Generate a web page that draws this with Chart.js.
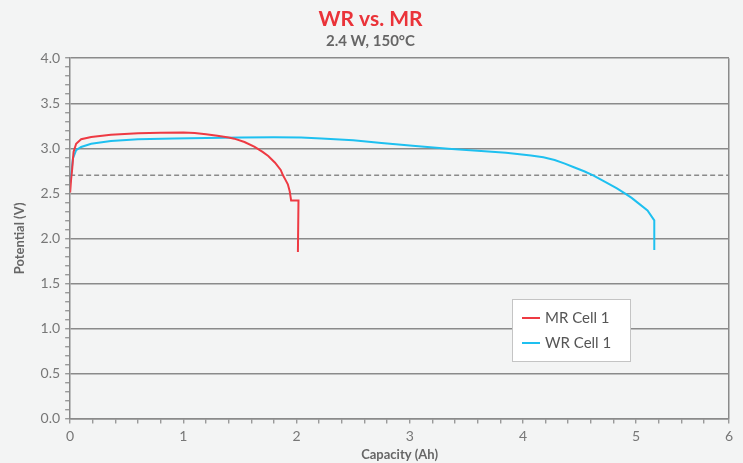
<!DOCTYPE html>
<html>
<head>
<meta charset="utf-8">
<script src="https://cdn.jsdelivr.net/npm/chart.js@4/dist/chart.umd.min.js"></script>
<style>
  body { margin: 0; background: #f3f4f4; }
  #wrap { width: 743px; height: 463px; position: relative; }
</style>
</head>
<body>
<div id="wrap"><canvas id="wrMrChart"></canvas></div>
<script>
// capacity (Ah) / potential (V)
const mrCapacity = [0, 0.008, 0.018, 0.03, 0.053, 0.097, 0.186, 0.36, 0.6, 0.8, 1.0, 1.1, 1.2, 1.3, 1.4, 1.45, 1.54, 1.63, 1.7, 1.75, 1.81, 1.86, 1.88, 1.9, 1.923, 1.94, 1.952, 2.017, 2.012];
const mrPotential = [2.51, 2.65, 2.77, 2.96, 3.05, 3.1, 3.126, 3.15, 3.167, 3.173, 3.175, 3.17, 3.157, 3.14, 3.12, 3.107, 3.07, 3.015, 2.96, 2.915, 2.84, 2.76, 2.7, 2.655, 2.6, 2.52, 2.42, 2.42, 1.85];

const wrCapacity = [0, 0.01, 0.024, 0.053, 0.097, 0.186, 0.36, 0.6, 0.92, 1.2, 1.51, 1.8, 2.04, 2.22, 2.5, 2.75, 3.05, 3.34, 3.63, 3.85, 4.07, 4.18, 4.28, 4.37, 4.45, 4.54, 4.62, 4.75, 4.83, 4.9, 4.96, 5.01, 5.1, 5.16, 5.16];
const wrPotential = [2.62, 2.72, 2.885, 2.98, 3.015, 3.05, 3.08, 3.1, 3.11, 3.115, 3.12, 3.122, 3.12, 3.11, 3.09, 3.06, 3.025, 2.995, 2.97, 2.95, 2.92, 2.9, 2.87, 2.83, 2.79, 2.745, 2.7, 2.61, 2.555, 2.5, 2.45, 2.4, 2.31, 2.2, 1.87];

const cutoffPotential = 2.7;
const xAxisEnd = 5.82;
const xTickLabels = ['0', '1', '2', '3', '4', '5', '6'];
const seriesLabels = ['MR Cell 1', 'WR Cell 1'];

const ctx = document.getElementById('wrMrChart');
const fontFamily = 'Lato, "Open Sans", sans-serif';

const toPoints = (xs, ys) => xs.map((x, i) => ({ x: x, y: ys[i] }));
const isHalf = v => Math.abs(v * 2 - Math.round(v * 2)) < 1e-6;

const boxLegend = {
  id: 'boxLegend',
  afterDraw(chart) {
    const c = chart.ctx;
    c.save();
    c.fillStyle = '#ffffff';
    c.strokeStyle = '#c4c4c4';
    c.lineWidth = 1;
    c.fillRect(512, 299, 118, 62);
    c.strokeRect(512.5, 299.5, 118, 62);
    chart.data.datasets.slice(0, 2).forEach((ds, i) => {
      const y = 318 + i * 25;
      c.strokeStyle = ds.borderColor;
      c.lineWidth = 2;
      c.beginPath();
      c.moveTo(522, y);
      c.lineTo(540, y);
      c.stroke();
      c.fillStyle = '#555';
      c.font = '15px ' + fontFamily;
      c.textBaseline = 'middle';
      c.fillText(ds.label, 545, y);
    });
    c.restore();
  }
};

new Chart(ctx, {
  type: 'line',
  data: {
    datasets: [
      {
        label: seriesLabels[0],
        data: toPoints(mrCapacity, mrPotential),
        borderColor: '#ee3a43',
        borderWidth: 2,
        pointRadius: 0,
        tension: 0
      },
      {
        label: seriesLabels[1],
        data: toPoints(wrCapacity, wrPotential),
        borderColor: '#1ec0f0',
        borderWidth: 2,
        pointRadius: 0,
        tension: 0
      },
      {
        label: 'cutoff',
        data: [{ x: 0, y: cutoffPotential }, { x: xAxisEnd, y: cutoffPotential }],
        borderColor: '#8a8a8a',
        borderWidth: 1.5,
        borderDash: [5, 3],
        pointRadius: 0
      }
    ]
  },
  options: {
    responsive: true,
    maintainAspectRatio: false,
    animation: false,
    layout: { padding: { left: 12, right: 14, top: 2, bottom: 0 } },
    plugins: {
      legend: { display: false },
      tooltip: { enabled: false },
      title: {
        display: true,
        text: 'WR vs. MR',
        color: '#ea3339',
        font: { family: fontFamily, size: 21, weight: 'bold' },
        padding: { top: 5, bottom: 0 }
      },
      subtitle: {
        display: true,
        text: '2.4 W, 150°C',
        color: '#666',
        font: { family: fontFamily, size: 15, weight: 'bold' },
        padding: { top: 0, bottom: 8 }
      }
    },
    scales: {
      x: {
        type: 'linear',
        min: 0,
        max: xAxisEnd,
        afterBuildTicks: scale => {
          const ticks = [];
          for (let i = 0; i < 29; i++) ticks.push({ value: Math.round(i * 2) / 10 });
          ticks.push({ value: xAxisEnd });
          scale.ticks = ticks;
        },
        ticks: {
          autoSkip: false,
          maxRotation: 0,
          color: '#777',
          font: { family: fontFamily, size: 14 },
          padding: 4,
          callback: (value) => {
            if (value === xAxisEnd) return xTickLabels[xTickLabels.length - 1];
            if (Math.abs(value - Math.round(value)) < 1e-6) return xTickLabels[Math.round(value)];
            return '';
          }
        },
        grid: {
          color: c => (c.tick && c.tick.value === xAxisEnd) ? '#8a8a8a' : 'transparent',
          lineWidth: 1.5,
          tickColor: '#8a8a8a',
          tickLength: 5,
          tickWidth: 1.2
        },
        border: { display: true, color: '#8a8a8a', width: 1.5 },
        title: {
          display: true,
          text: 'Capacity (Ah)',
          color: '#666',
          font: { family: fontFamily, size: 13, weight: 'bold' },
          padding: { top: -1, bottom: 0 }
        }
      },
      y: {
        min: 0,
        max: 4,
        ticks: {
          stepSize: 0.1,
          autoSkip: false,
          color: '#777',
          font: { family: fontFamily, size: 14 },
          padding: 5,
          callback: v => isHalf(v) ? v.toFixed(1) : ''
        },
        grid: {
          color: c => (c.tick && isHalf(c.tick.value)) ? '#8a8a8a' : 'transparent',
          lineWidth: 1.5,
          tickColor: '#8a8a8a',
          tickLength: 5,
          tickWidth: 1.2
        },
        border: { display: true, color: '#8a8a8a', width: 1.5 },
        title: {
          display: true,
          text: 'Potential (V)',
          color: '#666',
          font: { family: fontFamily, size: 13, weight: 'bold' },
          padding: { top: 0, bottom: 8 }
        }
      }
    }
  },
  plugins: [boxLegend]
});
</script>
</body>
</html>
